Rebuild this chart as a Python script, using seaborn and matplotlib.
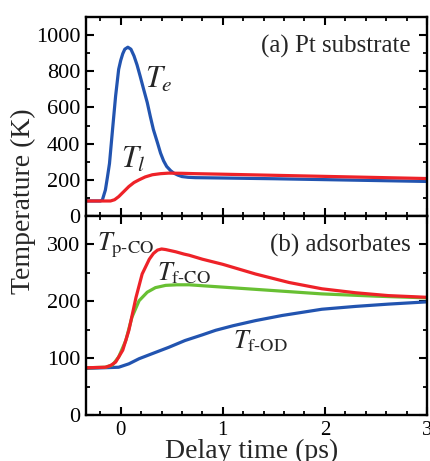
import matplotlib
matplotlib.use("Agg")
import matplotlib.pyplot as plt
import seaborn as sns
import pandas as pd
from matplotlib.ticker import MultipleLocator

# ---------------- data ----------------
# (a) Pt substrate
te_time = [-0.34, -0.20, -0.18, -0.15, -0.13, -0.11, -0.08, -0.05, -0.02, 0.00, 0.02, 0.04,
           0.07, 0.10, 0.13, 0.16, 0.19, 0.22, 0.26, 0.29, 0.32, 0.36, 0.39, 0.42, 0.45,
           0.49, 0.52, 0.56, 0.60, 0.66, 0.73, 1.00, 1.50, 2.00, 2.50, 3.00]
te_vals = [83, 83, 88, 144, 215, 290, 478, 663, 811, 860, 897, 922,
           933, 922, 885, 835, 774, 710, 627, 550, 478, 405, 348, 305, 274,
           250, 237, 226, 218, 214, 212, 210, 206, 201, 196, 191]

tl_time = [-0.34, -0.10, -0.06, -0.02, 0.03, 0.08, 0.13, 0.18, 0.24, 0.31, 0.39, 0.47,
           0.60, 0.73, 1.00, 1.50, 2.00, 2.50, 3.00]
tl_vals = [83, 83, 90, 107, 135, 163, 185, 200, 216, 228, 234, 237,
           236, 234, 231, 225, 219, 213, 207]

# (b) adsorbates
tp_time = [-0.34, -0.15, -0.10, -0.05, 0.02, 0.08, 0.15, 0.21, 0.28, 0.32, 0.36, 0.40,
           0.44, 0.49, 0.54, 0.62, 0.67, 0.80, 1.00, 1.32, 1.65, 1.97, 2.30, 2.62, 3.00]
tp_vals = [83, 84, 87, 93, 114, 149, 207, 248, 274, 284, 290, 292,
           291, 289, 287, 283, 281, 274, 265, 248, 233, 222, 215, 210, 207]

tf_time = [-0.34, -0.15, -0.08, -0.02, 0.05, 0.11, 0.18, 0.26, 0.34, 0.44, 0.55, 0.67,
           0.91, 1.32, 1.97, 2.50, 3.00]
tf_vals = [83, 84, 88, 102, 131, 172, 201, 216, 224, 228, 229, 229,
           226, 221, 213, 209, 206]

td_time = [-0.34, -0.02, 0.08, 0.18, 0.31, 0.47, 0.63, 0.80, 0.93, 1.10, 1.32, 1.58,
           1.97, 2.30, 2.62, 3.00]
td_vals = [82, 84, 90, 99, 108, 119, 131, 141, 149, 157, 166, 175,
           186, 191, 195, 199]

# ---------------- style ----------------
sns.set_theme(style="ticks")
plt.rcParams.update({
    "font.family": ["Liberation Serif", "DejaVu Serif"],
    "mathtext.fontset": "stix",
    "xtick.direction": "in",
    "ytick.direction": "in",
    "xtick.top": True,
    "ytick.right": True,
    "xtick.major.size": 5.5,
    "ytick.major.size": 5.5,
    "xtick.minor.size": 3,
    "ytick.minor.size": 3,
    "xtick.major.width": 1.5,
    "ytick.major.width": 1.5,
    "xtick.minor.width": 1.3,
    "ytick.minor.width": 1.3,
    "axes.linewidth": 1.7,
    "xtick.color": "black",
    "ytick.color": "black",
    "axes.edgecolor": "black",
})

BLUE = "#2254b0"
RED = "#ee2228"
GREEN = "#68c033"
LW = 2.3

fig = plt.figure(figsize=(4.30, 4.61), dpi=100)
W, H = 430, 461
left, right = 86, 427
ax1 = fig.add_axes([left / W, 1 - 216 / H, (right - left) / W, 199 / H])
ax2 = fig.add_axes([left / W, 1 - 415 / H, (right - left) / W, 199 / H])

df_a = pd.concat([
    pd.DataFrame({"t": te_time, "T": te_vals, "s": "Te"}),
    pd.DataFrame({"t": tl_time, "T": tl_vals, "s": "Tl"}),
])
df_b = pd.concat([
    pd.DataFrame({"t": td_time, "T": td_vals, "s": "fOD"}),
    pd.DataFrame({"t": tf_time, "T": tf_vals, "s": "fCO"}),
    pd.DataFrame({"t": tp_time, "T": tp_vals, "s": "pCO"}),
])

sns.lineplot(data=df_a, x="t", y="T", hue="s", palette={"Te": BLUE, "Tl": RED},
             hue_order=["Te", "Tl"], sort=False, estimator=None, legend=False,
             linewidth=LW, ax=ax1)
sns.lineplot(data=df_b, x="t", y="T", hue="s",
             palette={"fOD": BLUE, "fCO": GREEN, "pCO": RED},
             hue_order=["fOD", "fCO", "pCO"], sort=False, estimator=None, legend=False,
             linewidth=LW, ax=ax2)

for ax in (ax1, ax2):
    ax.set_xlim(-0.34, 3.0)
    ax.xaxis.set_major_locator(MultipleLocator(1))
    ax.xaxis.set_minor_locator(MultipleLocator(0.2))
    ax.set_xlabel("")
    ax.set_ylabel("")
    ax.tick_params(which="both", top=True, right=True)
    ax.tick_params(labelsize=16, pad=4)

ax1.set_ylim(0, 1100)
ax1.yaxis.set_major_locator(MultipleLocator(200))
ax1.yaxis.set_minor_locator(MultipleLocator(100))
ax1.tick_params(labelbottom=False)

ax2.set_ylim(0, 350)
ax2.yaxis.set_major_locator(MultipleLocator(100))
ax2.yaxis.set_minor_locator(MultipleLocator(50))
ax2.tick_params(axis="x", pad=4, labelsize=15)

# annotations
ax1.text(2.84, 906, "(a) Pt substrate", ha="right", va="baseline", fontsize=18)
ax2.text(2.84, 288, "(b) adsorbates", ha="right", va="baseline", fontsize=18)

ax1.text(0.24, 711, r"$T_e$", ha="left", va="baseline", fontsize=22)
ax1.text(0.0, 267, r"$T_l$", ha="left", va="baseline", fontsize=22)
ax2.text(-0.23, 290, r"$T_{\text{p-CO}}$", ha="left", va="baseline", fontsize=19)
ax2.text(0.36, 236, r"$T_{\text{f-CO}}$", ha="left", va="baseline", fontsize=19)
ax2.text(1.10, 117, r"$T_{\text{f-OD}}$", ha="left", va="baseline", fontsize=19)

fig.text(23 / W, 1 - 201 / H, "Temperature (K)", rotation=90, ha="center", va="center",
         fontsize=20)
fig.text(252 / W, 1 - 439 / H, "Delay time (ps)", ha="center", va="top", fontsize=20)

fig.savefig("out.png", dpi=100)
